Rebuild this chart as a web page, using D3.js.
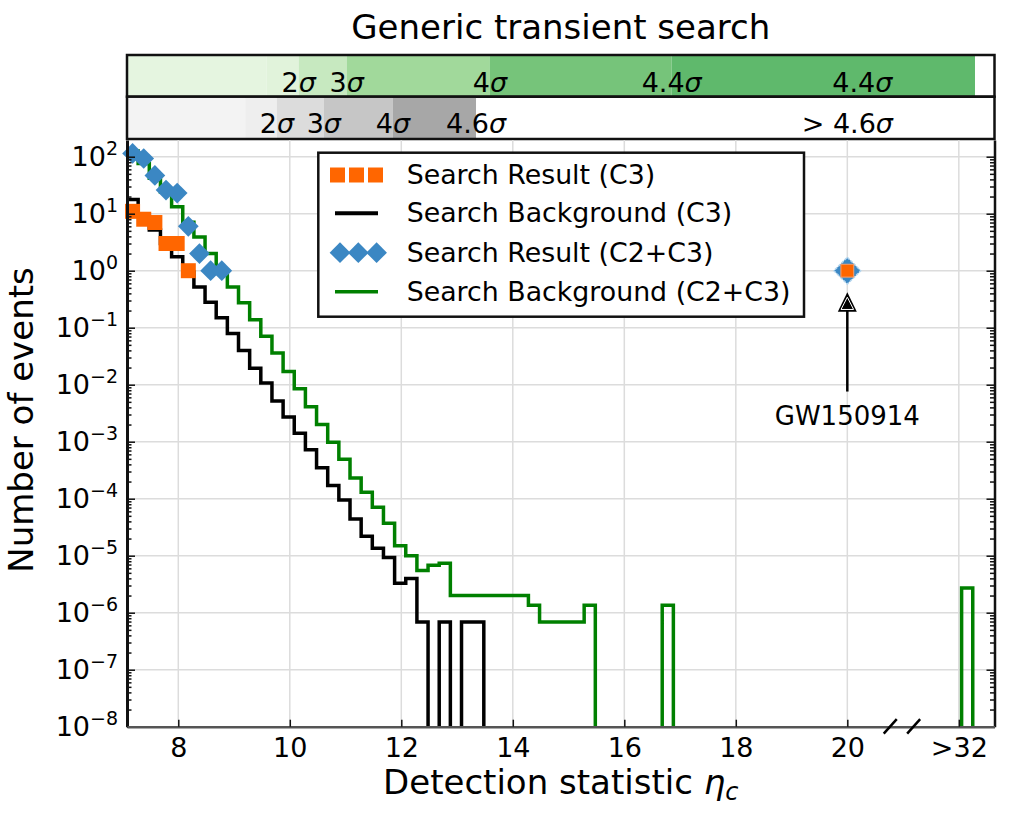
<!DOCTYPE html>
<meta charset="utf-8">
<style>

body {
  margin: 0;
  background: #fff;
}

text {
  font-family: "DejaVu Sans", sans-serif;
  fill: #000;
}

.grid line {
  stroke: #dcdcdc;
  stroke-width: 1.5px;
}

.step {
  fill: none;
  stroke-width: 3.5px;
  stroke-linejoin: miter;
}

</style>
<body>
<script src="https://d3js.org/d3.v7.min.js"></script>
<script>

const width = 1013;
const height = 815;

// plot area in page pixels
const plot = {left: 127, right: 994.5, top: 140, bottom: 726.7};

// histogram bins of the background (0.2 wide, starting at the left axis)
const binStart = 7.08;
const binWidth = 0.2;

const bgC3 = [
  17.8, 9.5, 5.2, 3.0, 1.76, 0.95, 0.52, 0.28, 0.15, 0.079,
  0.040, 0.0195, 0.0107, 0.0052, 0.0027, 0.0014, 7.2e-4, 3.5e-4, 1.7e-4, 9.5e-5,
  4.4e-5, 2.2e-5, 1.35e-5, 9.3e-6, 3.3e-6, 4.0e-6, 6.9e-7, 0, 6.9e-7, 0,
  6.9e-7, 6.9e-7, 0, 0, 0, 0, 0, 0, 0, 0,
  0, 0, 0, 0, 0, 0, 0, 0, 0, 0
];

const bgC23 = [
  126, 76, 42, 24, 13.2, 7.1, 3.9, 2.0, 1.02, 0.52,
  0.275, 0.138, 0.071, 0.036, 0.017, 0.0085, 0.0041, 0.0020, 9.8e-4, 4.9e-4,
  2.3e-4, 1.3e-4, 7.1e-5, 3.7e-5, 1.5e-5, 1.0e-5, 5.5e-6, 6.8e-6, 7.4e-6, 2.0e-6,
  2.0e-6, 2.0e-6, 2.0e-6, 2.0e-6, 2.0e-6, 2.0e-6, 1.35e-6, 6.9e-7, 6.9e-7, 6.9e-7,
  6.9e-7, 1.35e-6, 0, 0, 0, 0, 0, 0, 1.35e-6, 0
];

// overflow bin drawn right of the axis break
const overflowBin = [22.05, 22.25];
const overflowC23 = 2.7e-6;

// search results (points)
const resultX = [7.18, 7.38, 7.58, 7.78, 7.98, 8.18, 8.38, 8.58, 8.78];
const resultC3 = [11, 8, 7, 3, 3, 1];
const resultC23 = [114, 93, 47, 26, 23, 6, 2, 1, 1];
const gwEvent = {name: "GW150914", x: 20, count: 1, arrowTip: 0.42, textAt: 0.002};

const xTicks = [8, 10, 12, 14, 16, 18, 20, 22];
const xTickLabels = ["8", "10", "12", "14", "16", "18", "20", ">32"];
const yTickExps = [-8, -7, -6, -5, -4, -3, -2, -1, 0, 1, 2];
const axisBreaks = [20.77, 21.19];

// significance bands on top
const greenEdges = [7.08, 9.58, 10.16, 11.02, 13.59, 16.85, 22.29];
const greenColors = ["#e5f5e0", "#e1f3db", "#c7e9c0", "#a1d99b", "#76c47a", "#5fb96c"];
const greenLabelX = [10.16, 11.02, 13.59, 16.85, 20.27];
const greenLabels = ["2", "3", "4", "4.4", "4.4"];

const grayEdges = [7.08, 9.2, 9.77, 10.61, 11.85, 13.34];
const grayColors = ["#f3f3f3", "#eeeeee", "#dcdcdc", "#c6c6c6", "#a7a7a7"];
const grayLabelX = [9.77, 10.61, 11.85, 13.34, 20];
const grayLabels = ["2", "3", "4", "4.6", "> 4.6"];

const legendItems = [
  "Search Result (C3)",
  "Search Background (C3)",
  "Search Result (C2+C3)",
  "Search Background (C2+C3)"
];

const orange = "#ff6600";
const blue = "#3b87c3";
const green = "#008000";

const xScale = d3.scaleLinear()
    .domain([7.08, 22.64])
    .range([plot.left, plot.right]);

const yScale = d3.scaleLog()
    .domain([1e-8, Math.pow(10, 2.293)])
    .range([plot.bottom, plot.top]);

const yOf = v => v > 0 ? yScale(v) : yScale(1e-9);

const svg = d3.select("body").append("svg")
    .attr("width", width)
    .attr("height", height);

// title
svg.append("text")
    .attr("x", (plot.left + plot.right) / 2)
    .attr("y", 39)
    .attr("text-anchor", "middle")
    .style("font-size", "34px")
    .text("Generic transient search");

// bands
function sigmaLabel(sel, num) {
  sel.append("tspan").text(num);
  sel.append("tspan").style("font-style", "italic").text("σ");
}

function drawBand(y0, y1, edges, colors, labelX, labels, baseline) {
  const g = svg.append("g");
  g.selectAll("rect.seg")
    .data(colors)
    .enter().append("rect")
      .attr("class", "seg")
      .attr("x", (d, i) => xScale(edges[i]))
      .attr("y", y0)
      .attr("width", (d, i) => xScale(edges[i + 1]) - xScale(edges[i]))
      .attr("height", y1 - y0)
      .attr("fill", d => d);
  g.append("rect")
      .attr("x", plot.left)
      .attr("y", y0)
      .attr("width", plot.right - plot.left)
      .attr("height", y1 - y0)
      .attr("fill", "none")
      .attr("stroke", "#111")
      .attr("stroke-width", 2.5);
  labels.forEach((t, i) => {
    g.append("text")
        .attr("x", xScale(labelX[i]))
        .attr("y", baseline)
        .attr("text-anchor", "middle")
        .style("font-size", "27px")
        .call(sigmaLabel, t);
  });
}

drawBand(55, 96.7, greenEdges, greenColors, greenLabelX, greenLabels, 91.7);
drawBand(96.7, 139, grayEdges, grayColors, grayLabelX, grayLabels, 133.3);

// grid
const grid = svg.append("g").attr("class", "grid");
grid.selectAll("line.v")
  .data(xTicks)
  .enter().append("line")
    .attr("x1", d => xScale(d))
    .attr("x2", d => xScale(d))
    .attr("y1", plot.top)
    .attr("y2", plot.bottom);
grid.selectAll("line.h")
  .data(yTickExps.slice(1))
  .enter().append("line")
    .attr("x1", plot.left)
    .attr("x2", plot.right)
    .attr("y1", d => yScale(Math.pow(10, d)))
    .attr("y2", d => yScale(Math.pow(10, d)));

// clip
svg.append("clipPath")
    .attr("id", "clip")
  .append("rect")
    .attr("x", plot.left)
    .attr("y", plot.top)
    .attr("width", plot.right - plot.left)
    .attr("height", plot.bottom - plot.top);

const stepLine = d3.line()
    .x(d => xScale(d[0]))
    .y(d => yOf(d[1]))
    .curve(d3.curveStepAfter);

function stepPoints(values) {
  const pts = values.map((v, i) => [binStart + i * binWidth, v]);
  pts.push([binStart + values.length * binWidth, values[values.length - 1]]);
  return pts;
}

const lines = svg.append("g").attr("clip-path", "url(#clip)");

lines.append("path")
    .attr("class", "step")
    .attr("stroke", "#000")
    .attr("d", stepLine(stepPoints(bgC3)));

lines.append("path")
    .attr("class", "step")
    .attr("stroke", green)
    .attr("d", stepLine(stepPoints(bgC23)));

lines.append("path")
    .attr("class", "step")
    .attr("stroke", green)
    .attr("d", d3.line().x(d => xScale(d[0])).y(d => yOf(d[1]))([
      [overflowBin[0], 0], [overflowBin[0], overflowC23],
      [overflowBin[1], overflowC23], [overflowBin[1], 0]
    ]));

// markers
const diamond = d3.symbol().type(d3.symbolSquare).size(215);
const square = d3.symbol().type(d3.symbolSquare).size(225);

svg.append("g").selectAll("path")
  .data(resultC23)
  .enter().append("path")
    .attr("d", diamond)
    .attr("transform", (d, i) => `translate(${xScale(resultX[i])},${yScale(d)}) rotate(45)`)
    .attr("fill", blue);

svg.append("g").selectAll("path")
  .data(resultC3)
  .enter().append("path")
    .attr("d", square)
    .attr("transform", (d, i) => `translate(${xScale(resultX[i])},${yScale(d)})`)
    .attr("fill", orange);

// GW150914
const gx = xScale(gwEvent.x);
svg.append("path")
    .attr("d", d3.symbol().type(d3.symbolSquare).size(360))
    .attr("transform", `translate(${gx},${yScale(gwEvent.count)}) rotate(45)`)
    .attr("fill", blue)
    .attr("stroke", "#b5d6ee")
    .attr("stroke-width", 1.5)
    .attr("stroke-dasharray", "3,1.5");
svg.append("path")
    .attr("d", d3.symbol().type(d3.symbolSquare).size(165))
    .attr("transform", `translate(${gx},${yScale(gwEvent.count)})`)
    .attr("fill", orange)
    .attr("stroke", "#f7a070")
    .attr("stroke-width", 1);

const tipY = yScale(gwEvent.arrowTip);
const textY = yScale(gwEvent.textAt);
svg.append("line")
    .attr("x1", gx).attr("x2", gx)
    .attr("y1", textY - 33).attr("y2", tipY + 12)
    .attr("stroke", "#000")
    .attr("stroke-width", 2.5);
svg.append("path")
    .attr("d", `M${gx},${tipY} L${gx + 9.5},${tipY + 19.5} L${gx - 9.5},${tipY + 19.5} Z`)
    .attr("fill", "#000");
svg.append("path")
    .attr("d", `M${gx},${tipY + 5} L${gx + 6.3},${tipY + 17.3} L${gx - 6.3},${tipY + 17.3} Z`)
    .attr("fill", "#000")
    .attr("stroke", "#fff")
    .attr("stroke-width", 1);
svg.append("text")
    .attr("x", gx)
    .attr("y", textY)
    .attr("text-anchor", "middle")
    .style("font-size", "26px")
    .text(gwEvent.name);

// axes
const minorTicks = [];
yTickExps.forEach(e => {
  for (let m = 2; m <= 9; m++) {
    const v = m * Math.pow(10, e);
    if (v < yScale.domain()[1]) minorTicks.push(v);
  }
});

function styleAxis(g, color, w) {
  g.select(".domain").attr("stroke", color).attr("stroke-width", w);
  g.selectAll(".tick line").attr("stroke", "#111").attr("stroke-width", 1.5);
}

svg.append("g")
    .attr("transform", `translate(${plot.left},0)`)
    .call(d3.axisLeft(yScale).tickValues(minorTicks).tickSizeInner(-4.5).tickSizeOuter(0).tickFormat(""))
    .call(g => g.select(".domain").remove())
    .call(styleAxis, "#111", 1);

svg.append("g")
    .attr("transform", `translate(${plot.right},0)`)
    .call(d3.axisRight(yScale).tickValues(minorTicks).tickSizeInner(-4.5).tickSizeOuter(0).tickFormat(""))
    .call(g => g.select(".domain").remove())
    .call(styleAxis, "#111", 1);

svg.append("g")
    .attr("transform", `translate(${plot.left},0)`)
    .call(d3.axisLeft(yScale).tickValues(yTickExps.map(e => Math.pow(10, e))).tickSizeInner(-8).tickSizeOuter(0).tickFormat(""))
    .call(styleAxis, "#111", 3);

svg.append("g")
    .attr("transform", `translate(${plot.right},0)`)
    .call(d3.axisRight(yScale).tickValues(yTickExps.map(e => Math.pow(10, e))).tickSizeInner(-8).tickSizeOuter(0).tickFormat(""))
    .call(styleAxis, "#111", 2.5);

const xAxisG = svg.append("g")
    .attr("transform", `translate(0,${plot.bottom})`)
    .call(d3.axisBottom(xScale).tickValues(xTicks).tickSizeInner(-7).tickSizeOuter(0)
      .tickPadding(11).tickFormat((d, i) => xTickLabels[i]))
    .call(styleAxis, "#555", 2.5);

xAxisG.selectAll(".tick text")
    .attr("fill", "#000")
    .style("font-family", "DejaVu Sans")
    .style("font-size", "27px");

// y labels 10^n
const yLabels = svg.append("g").selectAll("text")
  .data(yTickExps)
  .enter().append("text")
    .attr("x", 118)
    .attr("y", d => yScale(Math.pow(10, d)) + 9)
    .attr("text-anchor", "end")
    .style("font-size", "27px");
yLabels.append("tspan").text("10");
yLabels.append("tspan")
    .attr("dy", -11)
    .style("font-size", "19px")
    .text(d => String(d).replace("-", "−"));

// axis break marks
svg.append("g").selectAll("line")
  .data(axisBreaks)
  .enter().append("line")
    .attr("x1", d => xScale(d) - 6.5)
    .attr("x2", d => xScale(d) + 6.5)
    .attr("y1", plot.bottom + 7)
    .attr("y2", plot.bottom - 7.5)
    .attr("stroke", "#000")
    .attr("stroke-width", 2.5);

// axis titles
svg.append("text")
    .attr("transform", `translate(33,420) rotate(-90)`)
    .attr("text-anchor", "middle")
    .style("font-size", "34px")
    .text("Number of events");

const xt = svg.append("text")
    .attr("x", (plot.left + plot.right) / 2)
    .attr("y", 794)
    .attr("text-anchor", "middle")
    .style("font-size", "34px");
xt.append("tspan").text("Detection statistic ");
xt.append("tspan").style("font-style", "italic").text("η");
xt.append("tspan").attr("dy", 6).style("font-style", "italic").style("font-size", "24px").text("c");

// legend
const legend = svg.append("g");
legend.append("rect")
    .attr("x", 318.3)
    .attr("y", 152.7)
    .attr("width", 485.7)
    .attr("height", 164)
    .attr("fill", "#fff")
    .attr("stroke", "#111")
    .attr("stroke-width", 2.5);

const rowY = [175, 213.3, 252.7, 291.7];

legend.selectAll("text")
  .data(legendItems)
  .enter().append("text")
    .attr("x", 406.7)
    .attr("y", (d, i) => rowY[i] + 9)
    .style("font-size", "26.8px")
    .text(d => d);

[337.5, 356.5, 375.5].forEach(x => {
  legend.append("path")
      .attr("d", square)
      .attr("transform", `translate(${x},${rowY[0]})`)
      .attr("fill", orange);
});
[340, 358.3, 376.6].forEach(x => {
  legend.append("path")
      .attr("d", diamond)
      .attr("transform", `translate(${x},${rowY[2]}) rotate(45)`)
      .attr("fill", blue);
});
legend.append("line")
    .attr("x1", 335).attr("x2", 378)
    .attr("y1", rowY[1]).attr("y2", rowY[1])
    .attr("stroke", "#000").attr("stroke-width", 4);
legend.append("line")
    .attr("x1", 335).attr("x2", 378)
    .attr("y1", rowY[3]).attr("y2", rowY[3])
    .attr("stroke", green).attr("stroke-width", 3.5);

</script>
